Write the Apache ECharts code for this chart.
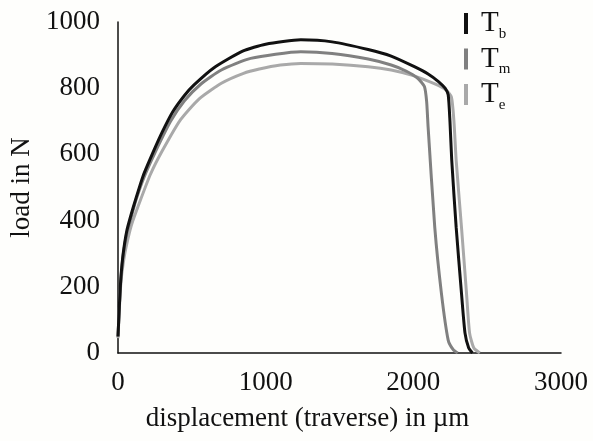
<!DOCTYPE html>
<html>
<head>
<meta charset="utf-8">
<script src="https://cdn.jsdelivr.net/npm/echarts@6/dist/echarts.min.js"></script>
<style>
html,body{margin:0;padding:0;background:#fefefc;}
#chart{width:593px;height:441px;}
</style>
</head>
<body>
<div id="chart"></div>
<script>
// displacement (µm), load (N)
const tbX = [0, 10, 20, 35, 60, 90, 118, 170, 243, 300, 370, 450, 515, 650, 844, 1000, 1238, 1450, 1694, 1850, 2007, 2100, 2170, 2215, 2236, 2248, 2260, 2290, 2326, 2350, 2375, 2400];
const tbY = [50, 150, 230, 300, 370, 420, 462, 535, 612, 668, 728, 778, 810, 862, 912, 933, 946, 940, 917, 897, 865, 843, 820, 800, 780, 700, 583, 380, 181, 60, 15, 0];

const tmX = [0, 10, 20, 35, 60, 90, 120, 175, 250, 356, 450, 560, 700, 898, 1238, 1450, 1694, 1850, 1950, 2030, 2075, 2090, 2100, 2145, 2190, 2236, 2270, 2300];
const tmY = [50, 148, 225, 295, 362, 412, 460, 530, 605, 700, 762, 812, 855, 890, 910, 905, 888, 870, 852, 830, 805, 760, 683, 380, 181, 39, 10, 0];

const teX = [0, 10, 20, 35, 50, 90, 152, 220, 299, 424, 550, 700, 850, 957, 1100, 1238, 1450, 1694, 1850, 2000, 2150, 2220, 2258, 2275, 2290, 2326, 2360, 2381, 2410, 2450];
const teY = [45, 140, 215, 270, 310, 385, 462, 540, 610, 705, 768, 815, 845, 858, 870, 875, 873, 865, 855, 838, 812, 795, 773, 700, 583, 380, 181, 60, 15, 0];

const seriesNames = ['Tb', 'Tm', 'Te'];
const seriesSubs = {Tb: 'b', Tm: 'm', Te: 'e'};
const seriesColors = ['#111111', '#808080', '#a9a9a9'];
const xTicks = [0, 1000, 2000, 3000];
const yTicks = [0, 200, 400, 600, 800, 1000];

function pairs(xs, ys) { return xs.map((x, i) => [x, ys[i]]); }
const datasets = [pairs(tbX, tbY), pairs(tmX, tmY), pairs(teX, teY)];

const FONT = '"Liberation Serif", "Times New Roman", serif';
const chart = echarts.init(document.getElementById('chart'));
chart.setOption({
  backgroundColor: '#fefefc',
  animation: false,
  grid: {left: 118, right: 32, top: 22, bottom: 88},
  legend: {
    orient: 'vertical',
    left: 459,
    top: 4,
    itemGap: 3,
    itemWidth: 4,
    itemHeight: 21,
    icon: 'rect',
    data: seriesNames,
    formatter: n => '{t|T}{s|' + seriesSubs[n] + '}',
    textStyle: {
      fontFamily: FONT,
      color: '#111',
      padding: [0, 0, 0, 8],
      rich: {
        t: {fontFamily: FONT, fontSize: 29, lineHeight: 30, color: '#111'},
        s: {fontFamily: FONT, fontSize: 15, lineHeight: 15, verticalAlign: 'bottom', color: '#111', padding: [0, 0, -3, 0]}
      }
    }
  },
  xAxis: {
    type: 'value', min: 0, max: 3000, interval: 1000,
    name: 'displacement (traverse) in µm',
    nameLocation: 'middle', nameGap: 52,
    nameTextStyle: {fontFamily: FONT, fontSize: 27, color: '#111', padding: [0, 64, 0, 0]},
    axisLine: {lineStyle: {color: '#111', width: 1.5}},
    axisTick: {show: false},
    splitLine: {show: false},
    axisLabel: {fontFamily: FONT, fontSize: 27, color: '#111', margin: 16,
      formatter: v => xTicks.includes(v) ? String(v) : ''}
  },
  yAxis: {
    type: 'value', min: 0, max: 1000, interval: 200,
    name: 'load in N',
    nameLocation: 'middle', nameGap: 78,
    nameTextStyle: {fontFamily: FONT, fontSize: 27, color: '#111'},
    axisLine: {show: true, lineStyle: {color: '#111', width: 1.5}},
    axisTick: {show: false},
    splitLine: {show: false},
    axisLabel: {fontFamily: FONT, fontSize: 27, color: '#111', margin: 18,
      formatter: v => yTicks.includes(v) ? String(v) : ''}
  },
  series: seriesNames.map((n, i) => ({
    name: n,
    type: 'line',
    data: datasets[i],
    showSymbol: false,
    smooth: 0.2,
    color: seriesColors[i],
    lineStyle: {width: 3, color: seriesColors[i]},
    z: 3 - i
  }))
});
</script>
</body>
</html>
